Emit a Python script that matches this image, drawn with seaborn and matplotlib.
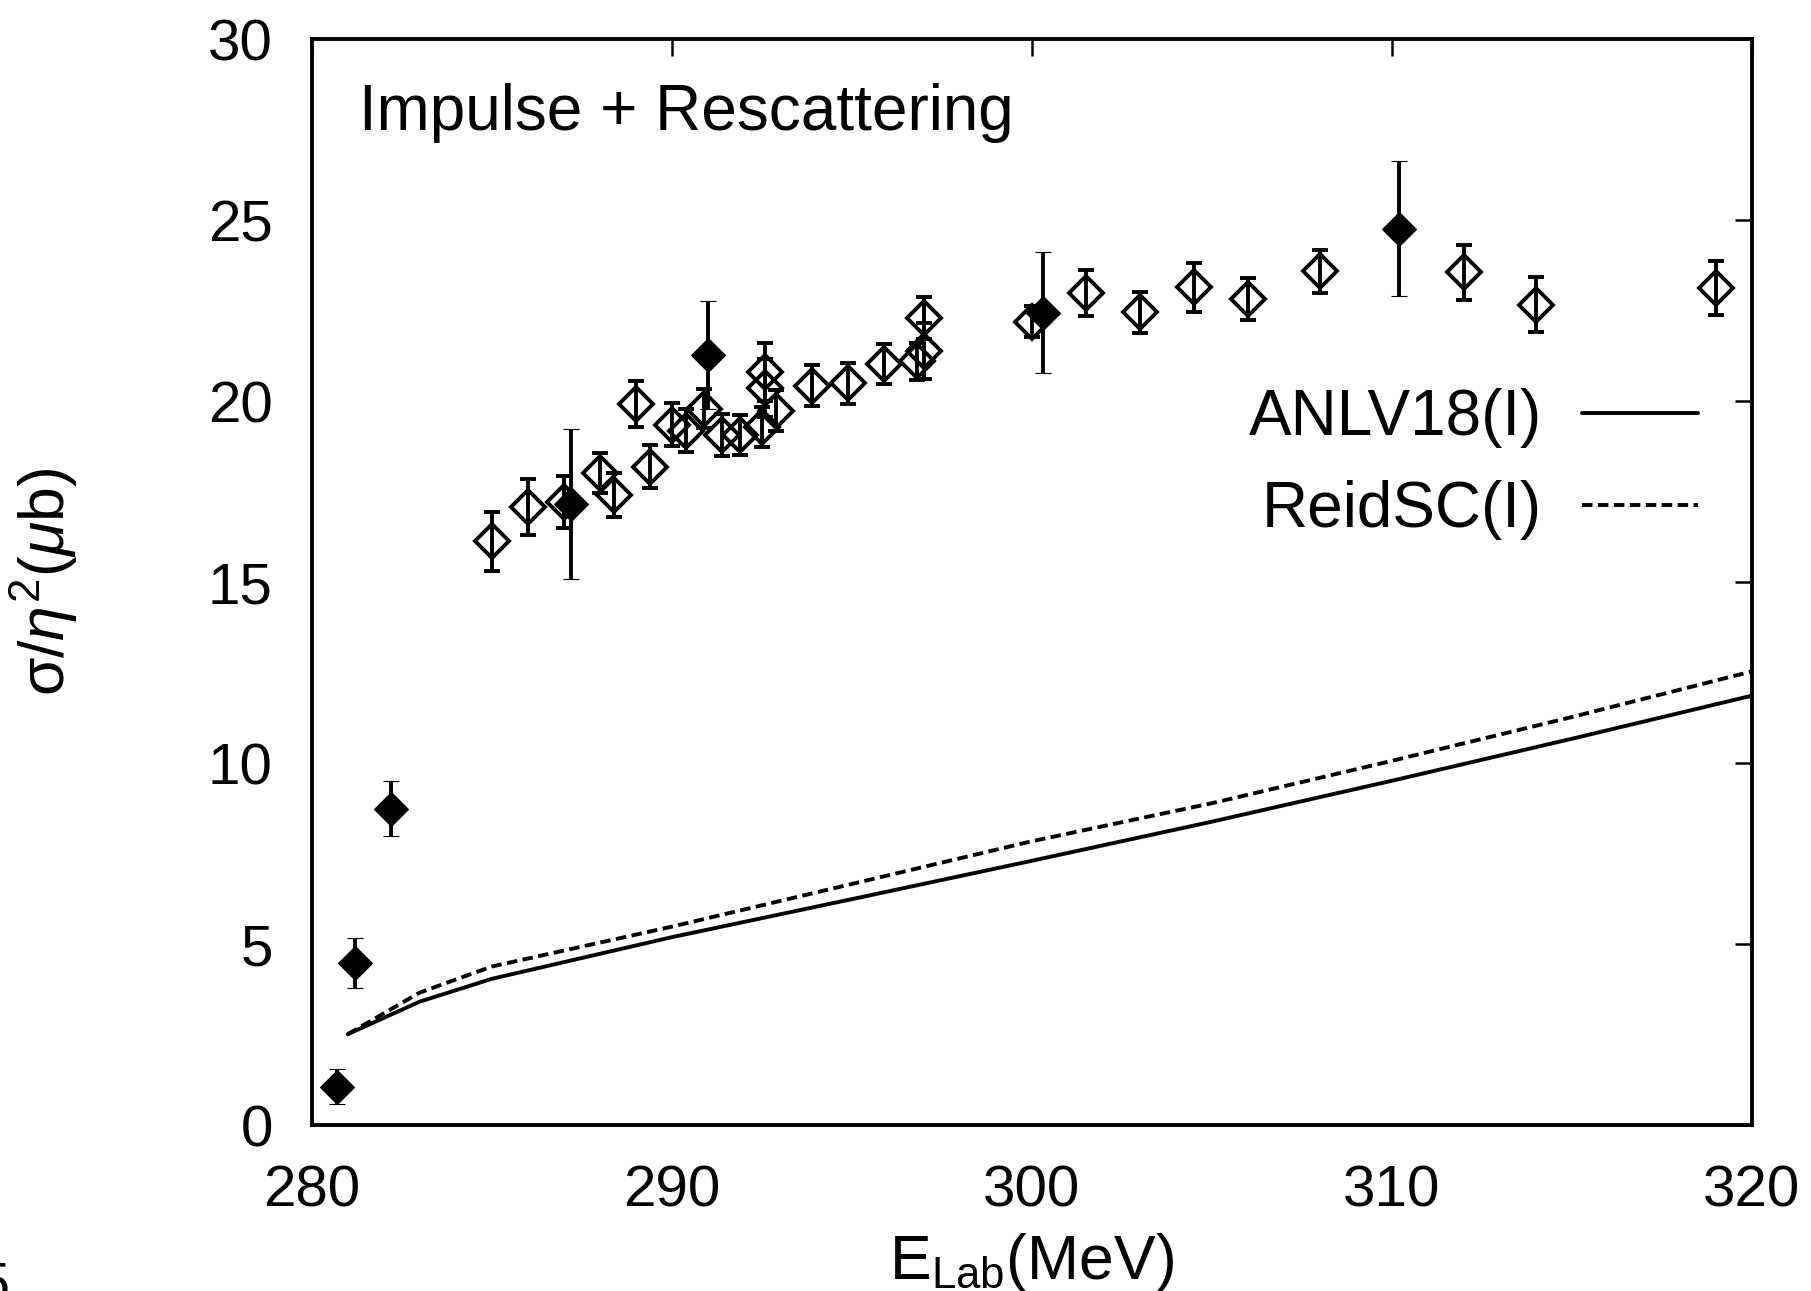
import matplotlib
matplotlib.use("Agg")
import matplotlib.pyplot as plt
import pandas as pd
import seaborn as sns

sns.set_theme(style="white")
plt.rcParams["font.family"] = ["Liberation Sans", "DejaVu Sans"]
plt.rcParams["mathtext.fontset"] = "custom"
plt.rcParams["mathtext.rm"] = "Liberation Sans"
plt.rcParams["mathtext.it"] = "Liberation Sans:italic"
plt.rcParams["mathtext.bf"] = "Liberation Sans:bold"
plt.rcParams["text.color"] = "black"
plt.rcParams["axes.labelcolor"] = "black"
plt.rcParams["xtick.color"] = "black"
plt.rcParams["ytick.color"] = "black"

# theory curves (impulse + rescattering)
e_theory = [281, 283, 285, 290, 295, 300, 305, 310, 315, 320]
anlv18 = [2.52, 3.42, 4.05, 5.2, 6.25, 7.31, 8.39, 9.52, 10.68, 11.87]
reidsc = [2.52, 3.67, 4.39, 5.49, 6.67, 7.85, 8.9, 10.07, 11.28, 12.54]

# open diamonds
e_open = [285.0, 286.0, 287.0, 288.0, 288.4, 289.0, 289.4, 290.0, 290.4, 290.9,
          291.4, 291.9, 292.5, 292.6, 292.6, 292.9, 293.9, 294.9, 295.9, 296.8,
          297.0, 297.0, 300.0, 301.5, 303.0, 304.5, 306.0, 308.0, 312.0, 314.0,
          319.0]
sig_open = [16.13, 17.09, 17.21, 18.02, 17.42, 19.93, 18.2, 19.36, 19.19, 19.8,
            19.07, 19.07, 19.3, 20.8, 20.38, 19.74, 20.43, 20.5, 21.03, 21.1,
            21.4, 22.3, 22.2, 22.99, 22.46, 23.15, 22.82, 23.59, 23.56, 22.67,
            23.13]
err_open = [0.81, 0.77, 0.72, 0.55, 0.61, 0.63, 0.6, 0.6, 0.6, 0.55,
            0.58, 0.55, 0.55, 0.8, 0.8, 0.57, 0.56, 0.56, 0.55, 0.5,
            0.77, 0.58, 0.43, 0.63, 0.56, 0.67, 0.58, 0.6, 0.76, 0.75,
            0.75]

# filled diamonds
e_full = [280.7, 281.2, 282.2, 287.2, 291.0, 300.3, 310.2]
sig_full = [1.07, 4.5, 8.75, 17.16, 21.28, 22.45, 24.77]
err_full = [0.48, 0.69, 0.76, 2.07, 1.5, 1.67, 1.87]

fig, ax = plt.subplots(figsize=(18.11, 12.91), dpi=100)
fig.subplots_adjust(left=0.1721, right=0.9673, bottom=0.1282, top=0.9696)

df = pd.DataFrame({"E": e_theory, "anlv": anlv18, "reid": reidsc})
sns.lineplot(data=df, x="E", y="anlv", color="black", lw=2.8, ax=ax,
             label="ANLV18(I)")
sns.lineplot(data=df, x="E", y="reid", color="black", lw=2.8,
             linestyle=(0, (2.7, 1.4)), ax=ax, label="ReidSC(I)")

ax.errorbar(e_open, sig_open, yerr=err_open, fmt="D", ms=17, mfc="none",
            mec="black", mew=2.8, color="black", elinewidth=2.8,
            capsize=6, capthick=2.8)
ax.errorbar(e_full, sig_full, yerr=err_full, fmt="D", ms=17, mfc="black",
            mec="black", mew=0.8, color="black", elinewidth=2.8,
            capsize=6, capthick=2.8)

ax.set_xlim(280, 320)
ax.set_ylim(0, 30)
ax.set_xticks([280, 290, 300, 310, 320])
ax.set_yticks([0, 5, 10, 15, 20, 25, 30])
ax.tick_params(direction="in", length=12, width=1.8, top=True, right=True,
               labelsize=42, colors="black")
ax.tick_params(axis="x", pad=28)
ax.tick_params(axis="y", pad=28)
for sp in ax.spines.values():
    sp.set_linewidth(2.8)
    sp.set_color("black")

ax.set_xlabel(r"E$_{\rm Lab}$(MeV)", fontsize=45)
ax.set_ylabel(r"σ/$\eta^2$($\mu$b)", fontsize=45)
ax.xaxis.set_label_coords(0.5, -0.097)
ax.yaxis.set_label_coords(-0.161, 0.5)

ax.text(0.033, 0.916, "Impulse + Rescattering", transform=ax.transAxes,
        fontsize=46, va="baseline", ha="left")

ax.legend(loc="upper right", bbox_to_anchor=(0.9627, 0.679), frameon=False,
          markerfirst=False, fontsize=46, handlelength=1.82,
          handletextpad=0.62, labelspacing=0.5, borderpad=0, borderaxespad=0)

fig.text(0.0055, -0.007, "5", fontsize=40, ha="right", va="baseline")

fig.savefig("out.png", dpi=100)
